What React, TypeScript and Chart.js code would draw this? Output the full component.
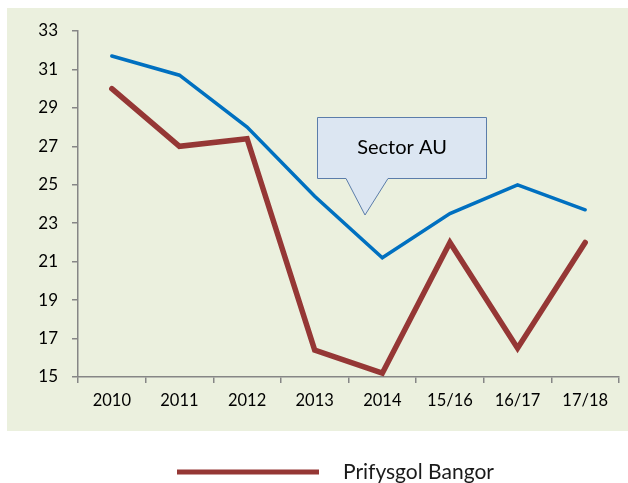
import React, { useEffect, useRef } from "react";
import { Chart, registerables } from "chart.js";

Chart.register(...registerables);

const categories = ["2010", "2011", "2012", "2013", "2014", "15/16", "16/17", "17/18"];
const sectorValues = [31.7, 30.7, 28.0, 24.4, 21.2, 23.5, 25.0, 23.7];
const bangorValues = [30.0, 27.0, 27.4, 16.4, 15.2, 22.0, 16.5, 22.0];
const sectorLabel = "Sector AU";
const bangorLabel = "Prifysgol Bangor";
const yMin = 15;
const yMax = 33;
const yStep = 2;

const FONT = "Lato, 'Open Sans', sans-serif";

const bgPlugin = {
  id: "bgPlugin",
  beforeDraw(chart: any) {
    const ctx = chart.ctx;
    ctx.save();
    ctx.fillStyle = "#EBF0DE";
    ctx.fillRect(7, 8, 621, 423);
    ctx.restore();
  },
};

const overlayPlugin = {
  id: "overlayPlugin",
  afterDraw(chart: any) {
    const ctx = chart.ctx;
    ctx.save();
    // callout annotation
    ctx.beginPath();
    ctx.moveTo(317.5, 117.5);
    ctx.lineTo(486.5, 117.5);
    ctx.lineTo(486.5, 178.5);
    ctx.lineTo(388, 178.5);
    ctx.lineTo(365, 215);
    ctx.lineTo(346, 178.5);
    ctx.lineTo(317.5, 178.5);
    ctx.closePath();
    ctx.fillStyle = "#DCE6F2";
    ctx.fill();
    ctx.lineWidth = 1;
    ctx.strokeStyle = "#5B7DAA";
    ctx.stroke();
    ctx.fillStyle = "#000";
    ctx.font = `20px ${FONT}`;
    ctx.textAlign = "center";
    ctx.textBaseline = "middle";
    ctx.fillText(chart.data.datasets[0].label, 402, 148);

    // legend (only Bangor)
    const ds = chart.data.datasets[1];
    ctx.beginPath();
    ctx.moveTo(177, 472);
    ctx.lineTo(319, 472);
    ctx.lineWidth = 5;
    ctx.strokeStyle = ds.borderColor;
    ctx.stroke();
    ctx.fillStyle = "#1a1a1a";
    ctx.font = `21px ${FONT}`;
    ctx.textAlign = "left";
    ctx.textBaseline = "middle";
    ctx.fillText(ds.label, 343, 472);
    ctx.restore();
  },
};

export default function App() {
  const ref = useRef<HTMLCanvasElement>(null);

  useEffect(() => {
    if (!ref.current) return;
    const chart = new Chart(ref.current, {
      type: "line",
      data: {
        labels: categories,
        datasets: [
          {
            label: sectorLabel,
            data: sectorValues,
            borderColor: "#0070C0",
            borderWidth: 3.5,
            pointRadius: 0,
            tension: 0,
            borderCapStyle: "round",
            borderJoinStyle: "miter",
          },
          {
            label: bangorLabel,
            data: bangorValues,
            borderColor: "#953735",
            borderWidth: 5.5,
            pointRadius: 0,
            tension: 0,
            borderCapStyle: "round",
            borderJoinStyle: "miter",
          },
        ],
      },
      options: {
        responsive: false,
        animation: false,
        devicePixelRatio: 1,
        layout: { padding: { left: 8, top: 31, right: 9, bottom: 52 } },
        plugins: {
          legend: { display: false },
          tooltip: { enabled: false },
        },
        scales: {
          x: {
            offset: true,
            grid: {
              offset: true,
              drawOnChartArea: false,
              drawTicks: true,
              tickLength: 6,
              color: "#868686",
              lineWidth: 1.5,
            },
            border: { display: true, color: "#868686", width: 1.5 },
            ticks: {
              color: "#000",
              font: { family: FONT, size: 16.5 },
              padding: 8,
              maxRotation: 0,
              autoSkip: false,
            },
            afterFit(scale: any) {
              scale.height = 54;
            },
          },
          y: {
            min: yMin,
            max: yMax,
            grid: {
              drawOnChartArea: false,
              drawTicks: true,
              tickLength: 6,
              color: "#868686",
              lineWidth: 1.5,
            },
            border: { display: true, color: "#868686", width: 1.5 },
            ticks: {
              stepSize: yStep,
              color: "#000",
              font: { family: FONT, size: 17 },
              padding: 14,
            },
            afterFit(scale: any) {
              scale.width = 70;
            },
          },
        },
      },
      plugins: [bgPlugin, overlayPlugin],
    });
    return () => chart.destroy();
  }, []);

  return (
    <div style={{ position: "absolute", left: 0, top: 0, width: 628, height: 483, background: "#fff" }}>
      <canvas ref={ref} width={628} height={483} />
    </div>
  );
}
